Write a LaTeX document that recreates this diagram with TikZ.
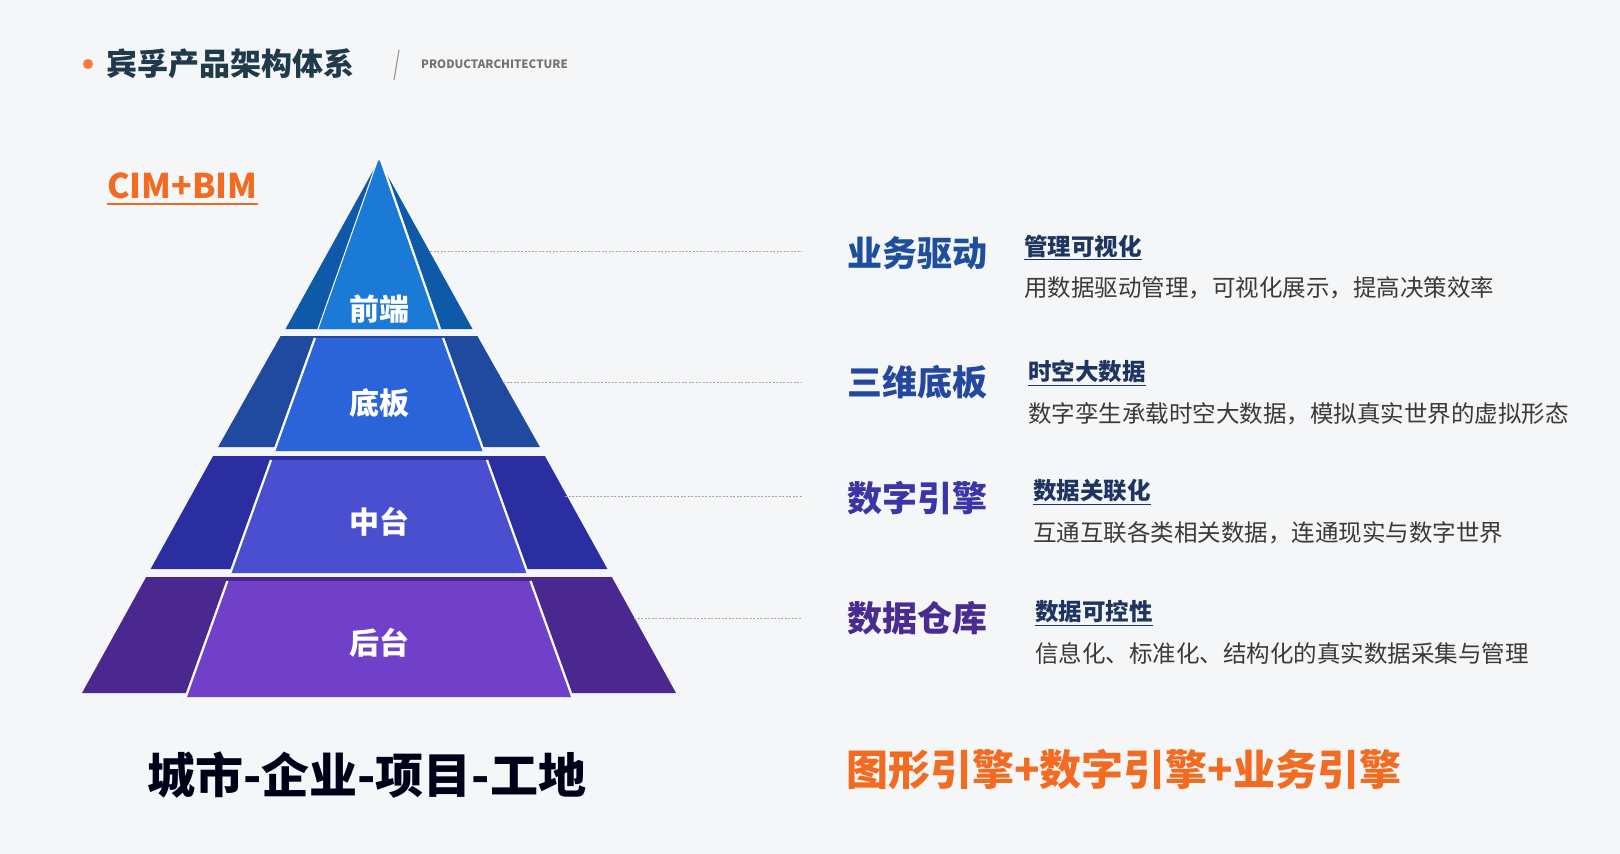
\documentclass[tikz,border=0pt]{standalone}
\usepackage{fontspec}
\setmainfont{Noto Sans CJK SC}
\usepackage{tikz}

\definecolor{bgpage}{HTML}{F5F6F8}
\definecolor{accent}{HTML}{F26B21}
\definecolor{titleteal}{HTML}{1F3A4A}
\definecolor{subnavy}{HTML}{1D3560}
\definecolor{descgray}{HTML}{3A3A3A}
\definecolor{oneside}{HTML}{0F5AA8}
\definecolor{onemid}{HTML}{1A7AD6}
\definecolor{twoside}{HTML}{1F4AA0}
\definecolor{twomid}{HTML}{2B63D9}
\definecolor{threeside}{HTML}{2A2EA0}
\definecolor{threemid}{HTML}{4A4FCF}
\definecolor{fourside}{HTML}{4A2890}
\definecolor{fourmid}{HTML}{7040C8}
\definecolor{headone}{HTML}{1E4F9E}
\definecolor{headtwo}{HTML}{2448A0}
\definecolor{headthree}{HTML}{3B35A8}
\definecolor{headfour}{HTML}{4A2B8F}

\tikzset{
  tierlabel/.style={text=white, font=\fontsize{30}{34}\selectfont\bfseries},
  headword/.style={anchor=west, inner sep=0pt, font=\fontsize{35}{40}\selectfont\bfseries},
  subhead/.style={anchor=west, inner sep=0pt, text=subnavy, font=\fontsize{23.5}{26}\selectfont\bfseries},
  desctext/.style={anchor=west, inner sep=0pt, text=descgray, font=\fontsize{23.5}{26}\selectfont},
  leader/.style={draw=gray!70, dash pattern=on 2pt off 1.5pt, line width=0.9pt},
  facetgap/.style={draw=white, line width=2.2pt},
  underbar/.style={line width=1.3pt}
}

\begin{document}
\begin{tikzpicture}[x=1pt,y=-1pt]

\fill[bgpage] (0,0) rectangle (1620,854);
\useasboundingbox (0,0) rectangle (1620,854);

% header
\fill[accent!90] (88,64) circle (5);
\node[anchor=west, inner sep=0pt, text=titleteal, font=\fontsize{31}{34}\selectfont\bfseries] (title) at (106,64) {宾孚产品架构体系};
\draw[gray!80, line width=1.2pt] (399,50) -- (394,80);
\node[anchor=west, inner sep=0pt, text=gray!90!black, font=\fontsize{11.5}{13}\selectfont\bfseries] (subtitle) at (421,64) {PRODUCTARCHITECTURE};

\node[anchor=west, inner sep=0pt, text=accent, font=\fontsize{34}{38}\selectfont\bfseries] (cim) at (107,186) {CIM+BIM};
\draw[accent, line width=2pt] ([yshift=-5pt]cim.south west) -- ([yshift=-5pt]cim.south east);

% pyramid
\fill[oneside] (379,160) -- (285.5,329) -- (472.5,329) -- cycle;
\fill[onemid] (377,162) -- (318,329) -- (440,329) -- (381,162) -- cycle;
\draw[facetgap] (381,160) -- (440,329);
\draw[facetgap, line width=1pt] (377,162) -- (318,329);

\fill[twoside] (280.6,336) -- (477.4,336) -- (539.9,447) -- (218.1,447) -- cycle;
\fill[twomid] (314.9,338) -- (443.1,338) -- (483.8,451) -- (274.2,451) -- cycle;
\draw[facetgap] (314.9,338) -- (274.2,451);
\draw[facetgap] (443.1,338) -- (483.8,451);

\fill[threeside] (213.1,456) -- (544.9,456) -- (607.4,569) -- (150.6,569) -- cycle;
\fill[threemid] (271,460) -- (487,460) -- (527.7,573) -- (230.3,573) -- cycle;
\draw[facetgap] (271,460) -- (230.3,573);
\draw[facetgap] (487,460) -- (527.7,573);

\fill[fourside] (146.2,577) -- (611.8,577) -- (676,693) -- (82,693) -- cycle;
\fill[fourmid] (227.4,581) -- (530.6,581) -- (572.3,697) -- (185.7,697) -- cycle;
\draw[facetgap] (227.4,581) -- (185.7,697);
\draw[facetgap] (530.6,581) -- (572.3,697);

\node[tierlabel] (front) at (379,309) {前端};
\node[tierlabel] (base) at (379,403) {底板};
\node[tierlabel] (middle) at (379,522) {中台};
\node[tierlabel] (back) at (379,643) {后台};

% leaders
\coordinate (edge1) at (430,251);
\coordinate (edge2) at (503,382);
\coordinate (edge3) at (565,496);
\coordinate (edge4) at (634,618);
\coordinate (stop1) at (802,251);
\coordinate (stop2) at (802,382);
\coordinate (stop3) at (802,496);
\coordinate (stop4) at (802,618);
\draw[leader] (edge1) -- (stop1);
\draw[leader] (edge2) -- (stop2);
\draw[leader] (edge3) -- (stop3);
\draw[leader] (edge4) -- (stop4);

% right column
\node[headword, text=headone] (drive) at (847,253) {业务驱动};
\node[subhead] (visual) at (1024,246) {管理可视化};
\draw[subnavy, underbar] ([yshift=-2pt]visual.south west) -- ([yshift=-2pt]visual.south east);
\node[desctext] (visualtxt) at (1024,288) {用数据驱动管理，可视化展示，提高决策效率};

\node[headword, text=headtwo] (board) at (847,382) {三维底板};
\node[subhead] (spatial) at (1028,372) {时空大数据};
\draw[subnavy, underbar] ([yshift=-2pt]spatial.south west) -- ([yshift=-2pt]spatial.south east);
\node[desctext] (spatialtxt) at (1028,414) {数字孪生承载时空大数据，模拟真实世界的虚拟形态};

\node[headword, text=headthree] (engine) at (847,498) {数字引擎};
\node[subhead] (linked) at (1033,491) {数据关联化};
\draw[subnavy, underbar] ([yshift=-2pt]linked.south west) -- ([yshift=-2pt]linked.south east);
\node[desctext] (linkedtxt) at (1033,533) {互通互联各类相关数据，连通现实与数字世界};

\node[headword, text=headfour] (store) at (847,618) {数据仓库};
\node[subhead] (control) at (1035,612) {数据可控性};
\draw[subnavy, underbar] ([yshift=-2pt]control.south west) -- ([yshift=-2pt]control.south east);
\node[desctext] (controltxt) at (1035,653) {信息化、标准化、结构化的真实数据采集与管理};

% bottom lines
\node[anchor=west, inner sep=0pt, text=black!90!blue, font=\fontsize{48}{52}\selectfont\bfseries] (scope) at (147,775) {城市-企业-项目-工地};
\node[anchor=west, inner sep=0pt, text=accent, font=\fontsize{42}{46}\selectfont\bfseries] (engines) at (846,770) {图形引擎+数字引擎+业务引擎};

\end{tikzpicture}
\end{document}
